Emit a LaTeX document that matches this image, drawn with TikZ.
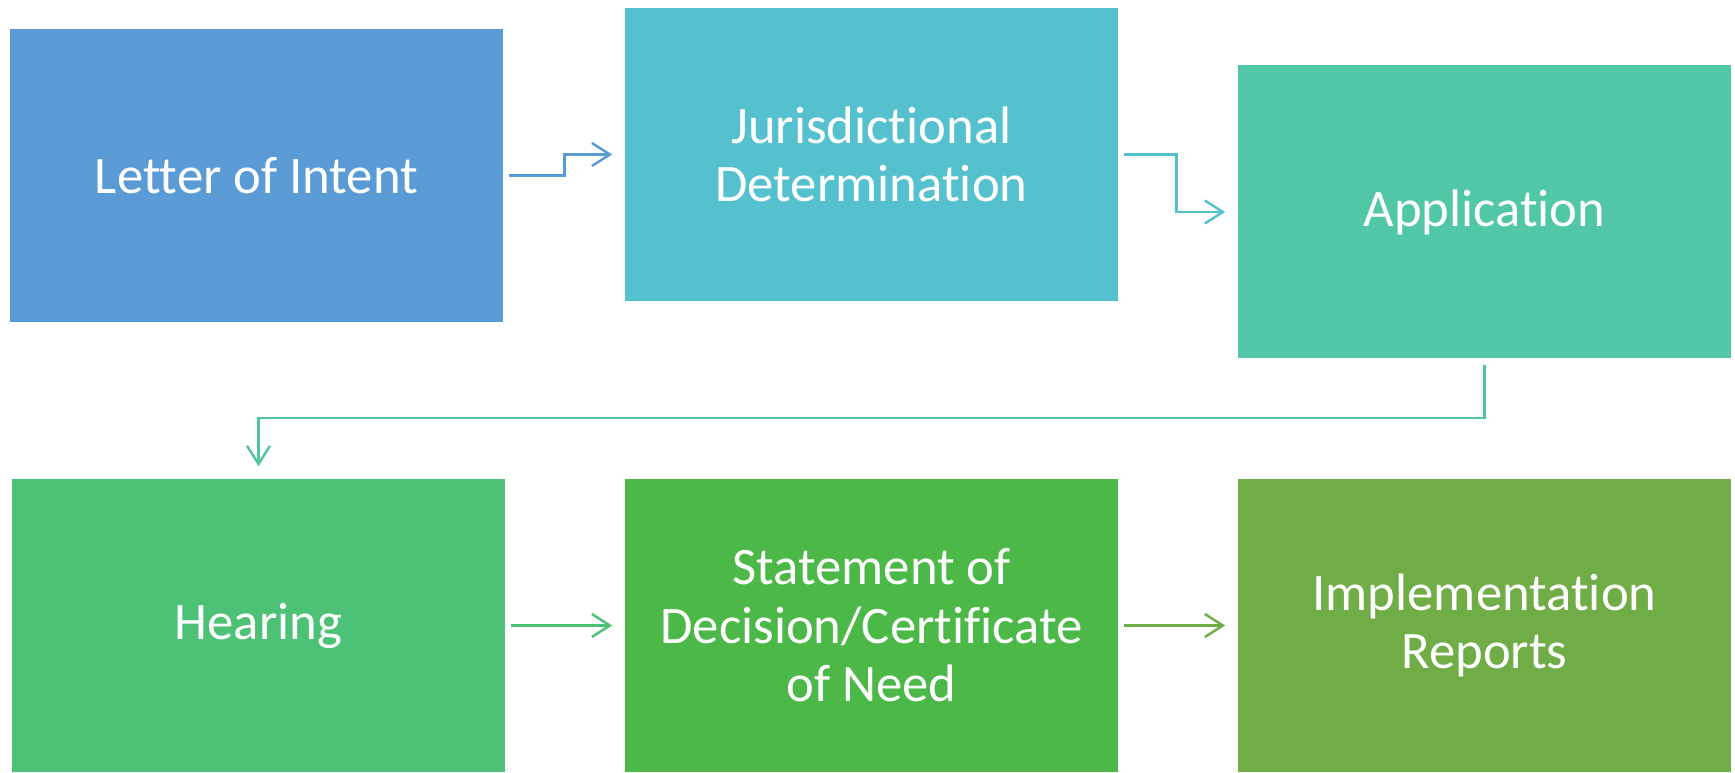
\documentclass[tikz,border=0pt]{standalone}
\usepackage{fontspec}
\setmainfont[Ligatures=NoCommon]{Carlito}
\usepackage{tikz}
\usetikzlibrary{arrows.meta}

\definecolor{letterblue}{HTML}{5B9BD5}
\definecolor{jurcyan}{HTML}{56C1CE}
\definecolor{appteal}{HTML}{52C7A8}
\definecolor{heargreen}{HTML}{4DC276}
\definecolor{stmtgreen}{HTML}{4BB848}
\definecolor{implgreen}{HTML}{70AD47}

\tikzset{
    stepbox/.style={rectangle, minimum width=9.86cm, minimum height=5.86cm, inner sep=0pt,
        text=white, align=center, font=\fontsize{30}{33.3}\selectfont},
    flow/.style={line width=1.4pt, shorten <=0.12cm, shorten >=0.25cm,
        -{Straight Barb[length=0.36cm, width=0.46cm, line width=1.4pt]}}
}

\begin{document}
\begin{tikzpicture}
    \useasboundingbox (0,0) rectangle (34.7,15.44);
    \node[stepbox, fill=letterblue] (letter) at (5.13,11.93) {Letter of Intent};
    \node[stepbox, fill=jurcyan] (jur) at (17.43,12.35) {Jurisdictional\\Determination};
    \node[stepbox, fill=appteal] (app) at (29.69,11.2) {Application};
    \node[stepbox, fill=heargreen] (hear) at (5.17,2.93) {Hearing};
    \node[stepbox, fill=stmtgreen] (stmt) at (17.43,2.93) {Statement of\\Decision/Certificate\\of Need};
    \node[stepbox, fill=implgreen] (impl) at (29.69,2.93) {Implementation\\Reports};

    \draw[flow, letterblue] (letter.east) -- ++(1.22,0) |- (jur.west);
    \draw[flow, jurcyan] (jur.east) -- ++(1.16,0) |- (app.west);
    \draw[flow, appteal!80!heargreen] (app.south) -- ++(0,-1.18) -| (hear.north);
    \draw[flow, heargreen] (hear) -- (stmt);
    \draw[flow, implgreen] (stmt) -- (impl);
\end{tikzpicture}
\end{document}
